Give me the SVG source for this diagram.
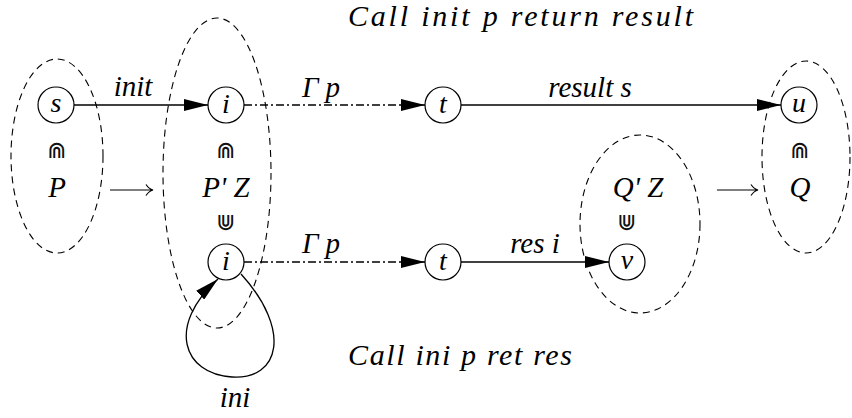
<svg xmlns="http://www.w3.org/2000/svg" width="852" height="418" viewBox="0 0 852 418">
<defs>
<marker id="ah" markerUnits="userSpaceOnUse" markerWidth="24" markerHeight="12" refX="24" refY="6" orient="auto">
<path d="M0,0 L24,6 L0,12 z" fill="#000"/>
</marker>
</defs>

<g id="titles">
<text x="348" y="26" font-family="Times New Roman, Liberation Serif, serif" font-style="italic" font-size="30" textLength="345" lengthAdjust="spacing">Call init p return result</text>
<text x="348" y="365" font-family="Times New Roman, Liberation Serif, serif" font-style="italic" font-size="30" textLength="224" lengthAdjust="spacing">Call ini p ret res</text>
</g>

<g id="sets" fill="none" stroke="#000" stroke-width="1.1" stroke-dasharray="7 5">
<ellipse id="set-P" cx="57" cy="156" rx="46" ry="97"/>
<ellipse id="set-PZ" cx="217" cy="173" rx="54" ry="155"/>
<ellipse id="set-QZ" cx="640" cy="224" rx="60" ry="89"/>
<ellipse id="set-Q" cx="806" cy="157" rx="44" ry="96"/>
</g>

<g id="set-symbols" fill="#111" text-anchor="middle">
<text x="57" y="158" font-family="DejaVu Sans" font-size="23">⋒</text>
<text x="226" y="158" font-family="DejaVu Sans" font-size="23">⋒</text>
<text x="226" y="230" font-family="DejaVu Sans" font-size="23">⋓</text>
<text x="627" y="230" font-family="DejaVu Sans" font-size="23">⋓</text>
<text x="800" y="158" font-family="DejaVu Sans" font-size="23">⋒</text>
</g>
<g id="set-labels" text-anchor="middle">
<text x="57" y="197" font-family="Times New Roman, Liberation Serif, serif" font-style="italic" font-size="29">P</text>
<text x="226" y="197" font-family="Times New Roman, Liberation Serif, serif" font-style="italic" font-size="29">P' Z</text>
<text x="638" y="197" font-family="Times New Roman, Liberation Serif, serif" font-style="italic" font-size="29">Q' Z</text>
<text x="800" y="197" font-family="Times New Roman, Liberation Serif, serif" font-style="italic" font-size="29">Q</text>
</g>

<g id="connectors" fill="none" stroke="#000" stroke-width="1.3">
<line x1="74" y1="105" x2="208" y2="105" marker-end="url(#ah)"/>
<line x1="244" y1="105" x2="425" y2="105" stroke-dasharray="8 3 2 3" marker-end="url(#ah)"/>
<line x1="461" y1="105" x2="781" y2="105" marker-end="url(#ah)"/>
<line x1="244" y1="262" x2="425" y2="262" stroke-dasharray="8 3 2 3" marker-end="url(#ah)"/>
<line x1="461" y1="262" x2="609" y2="262" marker-end="url(#ah)"/>
<path d="M 241 274 C 292 330, 280 380, 232 377 C 183 374, 166 326, 218 279" marker-end="url(#ah)"/>
<path stroke-width="1.2" d="M 110 190 H 153 M 146 184.5 Q 149 189 153 190 Q 149 191 146 195.5"/>
<path stroke-width="1.2" d="M 717 190 H 758 M 751 184.5 Q 754 189 758 190 Q 754 191 751 195.5"/>
</g>
<g id="edge-labels" text-anchor="middle">
<text x="133" y="96" font-family="Times New Roman, Liberation Serif, serif" font-style="italic" font-size="29">init</text>
<text x="321" y="97" font-family="Times New Roman, Liberation Serif, serif" font-style="italic" font-size="29">Γ  p</text>
<text x="590" y="97" font-family="Times New Roman, Liberation Serif, serif" font-style="italic" font-size="29">result s</text>
<text x="321" y="253" font-family="Times New Roman, Liberation Serif, serif" font-style="italic" font-size="29">Γ  p</text>
<text x="535" y="253" font-family="Times New Roman, Liberation Serif, serif" font-style="italic" font-size="29">res i</text>
<text x="235" y="407" font-family="Times New Roman, Liberation Serif, serif" font-style="italic" font-size="29">ini</text>
</g>

<g id="nodes" text-anchor="middle">
<g id="node-s"><circle cx="56" cy="105" r="18" fill="#fff" stroke="#000" stroke-width="1.2"/><text x="56" y="112" font-family="Times New Roman, Liberation Serif, serif" font-style="italic" font-size="28">s</text></g>
<g id="node-i1"><circle cx="226" cy="105" r="18" fill="#fff" stroke="#000" stroke-width="1.2"/><text x="226" y="113" font-family="Times New Roman, Liberation Serif, serif" font-style="italic" font-size="28">i</text></g>
<g id="node-t1"><circle cx="443" cy="105" r="18" fill="#fff" stroke="#000" stroke-width="1.2"/><text x="443" y="113" font-family="Times New Roman, Liberation Serif, serif" font-style="italic" font-size="28">t</text></g>
<g id="node-u"><circle cx="799" cy="105" r="18" fill="#fff" stroke="#000" stroke-width="1.2"/><text x="799" y="112" font-family="Times New Roman, Liberation Serif, serif" font-style="italic" font-size="28">u</text></g>
<g id="node-i2"><circle cx="226" cy="262" r="18" fill="#fff" stroke="#000" stroke-width="1.2"/><text x="226" y="270" font-family="Times New Roman, Liberation Serif, serif" font-style="italic" font-size="28">i</text></g>
<g id="node-t2"><circle cx="443" cy="262" r="18" fill="#fff" stroke="#000" stroke-width="1.2"/><text x="443" y="270" font-family="Times New Roman, Liberation Serif, serif" font-style="italic" font-size="28">t</text></g>
<g id="node-v"><circle cx="627" cy="262" r="18" fill="#fff" stroke="#000" stroke-width="1.2"/><text x="627" y="269" font-family="Times New Roman, Liberation Serif, serif" font-style="italic" font-size="28">v</text></g>
</g>
</svg>
